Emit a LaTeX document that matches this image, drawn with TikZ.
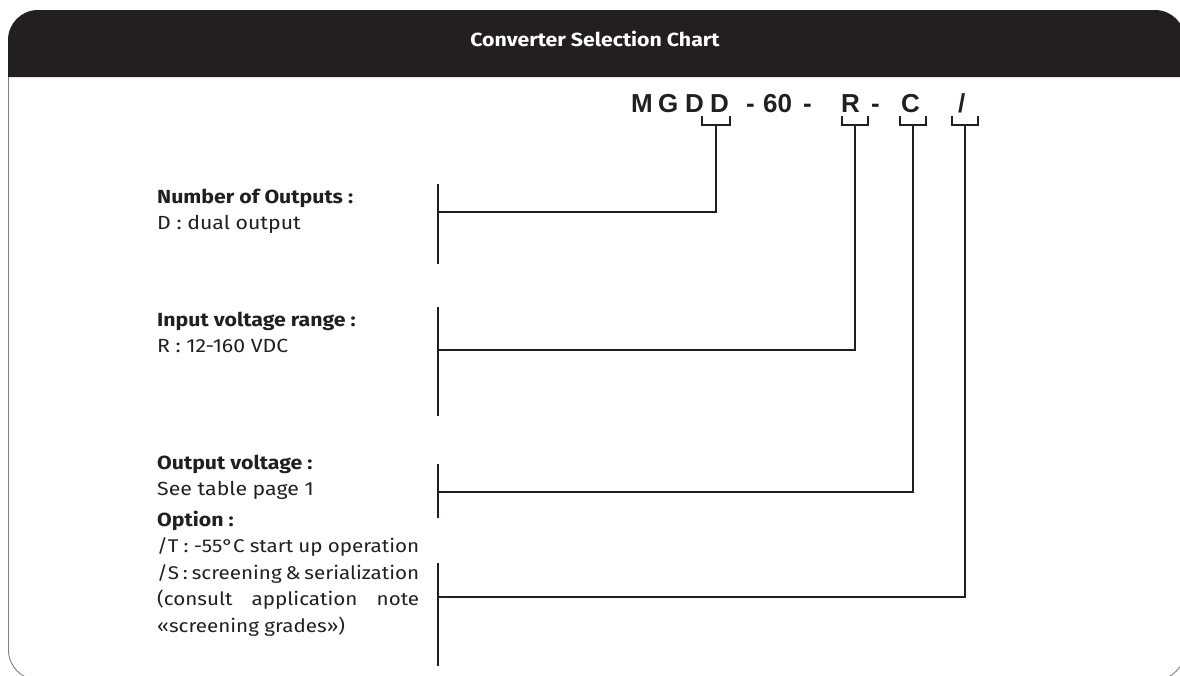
\documentclass[tikz,border=0pt]{standalone}
\usepackage{fontspec}
\setmainfont{Fira Sans}[FakeStretch=1.12]
\newfontfamily\codefont{Liberation Sans}
\usetikzlibrary{positioning}
\definecolor{ink}{HTML}{231F20}
\newcommand{\fullline}[1]{\makebox[262pt][s]{#1}}

\tikzset{
    codechar/.style = {font=\codefont\bfseries\fontsize{26}{26}\selectfont, text=ink, inner sep=0pt, anchor=base west},
    head/.style = {font=\bfseries\fontsize{19}{22}\selectfont, text=ink, inner sep=0pt, anchor=base west},
    desc/.style = {font=\fontsize{19}{26.4}\selectfont, text=ink, inner sep=0pt, anchor=base west, align=left},
    wire/.style = {draw=ink, line width=2.2pt},
    hook/.style = {draw=ink, line width=2pt},
}

\begin{document}
\begin{tikzpicture}[x=1pt, y=-1pt]
    \useasboundingbox (0,0) rectangle (1180,675);
    % frame and header band
    \draw[gray, line width=0.9pt] (8.5,77) -- (8.5,650) arc[start angle=180, end angle=270, radius=30pt]
        -- (1155,680) arc[start angle=270, end angle=360, radius=30pt] -- (1185,77);
    \fill[ink] (8,77) -- (8,40) arc[start angle=180, end angle=90, radius=30pt]
        -- (1155,10) arc[start angle=90, end angle=0, radius=30pt] -- (1185,77) -- cycle;
    \node[font=\bfseries\fontsize{19}{22}\selectfont, text=white] (title) at (595,39) {Converter Selection Chart};

    % model code
    \node[codechar] (cM) at (631,112) {M};
    \node[codechar] (cG) at (658,112) {G};
    \node[codechar] (cD) at (685,112) {D};
    \node[codechar] (cDout) at (710,112) {D};
    \node[codechar] (dashA) at (746,112) {-};
    \node[codechar] (cVolt) at (763,112) {60};
    \node[codechar] (dashB) at (803,112) {-};
    \node[codechar] (cRange) at (841,112) {R};
    \node[codechar] (dashC) at (871,112) {-};
    \node[codechar] (cOut) at (901,112) {C};
    \node[codechar] (cOpt) at (958,112) {/};

    % brackets under the code letters
    \draw[hook] (702,116) -- (702,125) -- (730,125) -- (730,116);
    \draw[hook] (842,116) -- (842,125) -- (868,125) -- (868,116);
    \draw[hook] (900,116) -- (900,125) -- (926,125) -- (926,116);
    \draw[hook] (952,116) -- (952,125) -- (978,125) -- (978,116);
    \coordinate (hD) at (716,125);
    \coordinate (hR) at (855,125);
    \coordinate (hC) at (913,125);
    \coordinate (hS) at (965,125);

    % bars on the left
    \coordinate (barDtop) at (438,184);  \coordinate (barDbot) at (438,264);  \coordinate (jD) at (438,212);
    \coordinate (barRtop) at (438,307);  \coordinate (barRbot) at (438,416);  \coordinate (jR) at (438,350);
    \coordinate (barCtop) at (438,464);  \coordinate (barCbot) at (438,518);  \coordinate (jC) at (438,492);
    \coordinate (barStop) at (438,563);  \coordinate (barSbot) at (438,666);  \coordinate (jS) at (438,597);
    \draw[wire] (barDtop) -- (barDbot);
    \draw[wire] (barRtop) -- (barRbot);
    \draw[wire] (barCtop) -- (barCbot);
    \draw[wire] (barStop) -- (barSbot);
    \draw[wire] (hD) |- (jD);
    \draw[wire] (hR) |- (jR);
    \draw[wire] (hC) |- (jC);
    \draw[wire] (hS) |- (jS);

    % descriptions
    \node[head] (outHead) at (157,203) {Number of Outputs :};
    \node[desc] (outText) at (157,229) {D : dual output};
    \node[head] (inHead) at (157,326) {Input voltage range :};
    \node[desc] (inText) at (157,352) {R : 12-160 VDC};
    \node[head] (voltHead) at (157,469) {Output voltage :};
    \node[desc] (voltText) at (157,495) {See table page 1};
    \node[head] (optHead) at (157,526) {Option :};
    % base anchor sits on the last line
    \node[desc, font=\fontsize{18.4}{26.4}\selectfont] (optText) at (157,632)
        {\spaceskip=0.22em plus 1em minus 0.08em
         \fullline{/T : -55°C start up operation}\\
         \fullline{/S : screening \& serialization}\\
         \fullline{(consult application note}\\
         «screening grades»)};
\end{tikzpicture}
\end{document}
